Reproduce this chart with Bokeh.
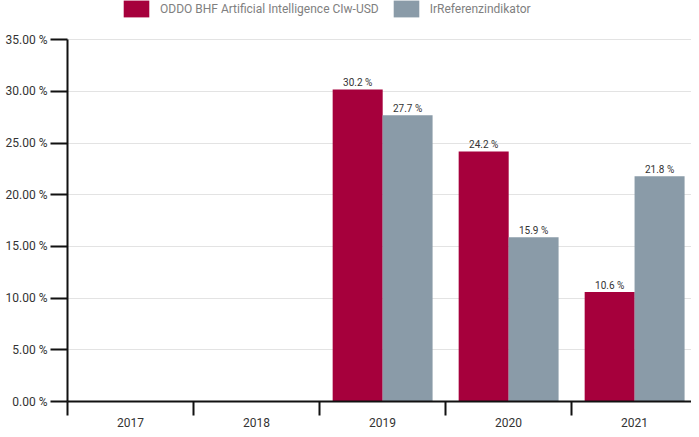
from bokeh.plotting import figure
from bokeh.models import (ColumnDataSource, Range1d, FixedTicker, LabelSet)
from bokeh.core.properties import value
from bokeh.embed import file_html
from bokeh.resources import INLINE

years = ["2017", "2018", "2019", "2020", "2021"]
fund_years = ["2019", "2020", "2021"]
fund_values = [30.2, 24.2, 10.6]
ref_years = ["2019", "2020", "2021"]
ref_values = [27.7, 15.9, 21.8]
y_ticks = [0, 5, 10, 15, 20, 25, 30, 35]
fund_name = "ODDO BHF Artificial Intelligence CIw-USD"
ref_name = "IrReferenzindikator"

RED = "#a6003c"
GREY = "#8a9ba8"
FONT = "Roboto"

def pos(y):
    return years.index(y) + 0.5

fund_src = ColumnDataSource(dict(
    x=[pos(y) - 0.197 for y in fund_years], top=fund_values,
    lbl=[f"{v:.1f} %" for v in fund_values]))
ref_src = ColumnDataSource(dict(
    x=[pos(y) + 0.199 for y in ref_years], top=ref_values,
    lbl=[f"{v:.1f} %" for v in ref_values]))

p = figure(width=691, height=429, output_backend="svg", toolbar_location=None,
           x_range=Range1d(0, 624 / 126), y_range=Range1d(0, 38.8),
           min_border_left=67, min_border_right=0, min_border_bottom=15,
           min_border_top=0)
p.outline_line_color = None

r1 = p.vbar(x="x", top="top", width=0.397, bottom=0, source=fund_src,
            fill_color=RED, line_color=None, legend_label=fund_name)
r2 = p.vbar(x="x", top="top", width=0.397, bottom=0, source=ref_src,
            fill_color=GREY, line_color=None, legend_label=ref_name)

for src in (fund_src, ref_src):
    p.add_layout(LabelSet(x="x", y="top", text="lbl", source=src,
                          text_align="center", text_baseline="bottom",
                          y_offset=1, text_font_size=value("10px"),
                          text_color=value("#333333"),
                          text_font=value(FONT)))

# y axis
yax = p.yaxis[0]
yax.ticker = FixedTicker(ticks=y_ticks)
yax.bounds = (0, 35)
yax.major_label_overrides = {t: f"{t:.2f} %" for t in y_ticks}
yax.major_tick_out = 17
yax.major_tick_in = 0
yax.major_tick_line_color = "#111111"
yax.major_tick_line_width = 2
yax.axis_line_color = "#111111"
yax.axis_line_width = 2
yax.major_label_text_font_size = "12px"
yax.major_label_text_color = "#333333"
yax.major_label_text_font = FONT
yax.major_label_standoff = 3
yax.minor_tick_line_color = None

# x axis
xax = p.xaxis[0]
xax.ticker = FixedTicker(ticks=[i + 0.5 for i in range(len(years))],
                         minor_ticks=list(range(len(years) + 1)))
xax.major_label_overrides = {i + 0.5: y for i, y in enumerate(years)}
xax.major_tick_line_color = None
xax.major_tick_out = 0
xax.major_tick_in = 0
xax.minor_tick_out = 14
xax.minor_tick_in = 0
xax.minor_tick_line_color = "#111111"
xax.minor_tick_line_width = 2
xax.axis_line_color = "#111111"
xax.axis_line_width = 2
xax.major_label_text_font_size = "12px"
xax.major_label_text_color = "#333333"
xax.major_label_text_font = FONT
xax.major_label_standoff = 2

p.xgrid.grid_line_color = None
p.ygrid.grid_line_color = "#e3e3e3"

lg = p.legend[0]
lg.orientation = "horizontal"
lg.location = (53, 382)
lg.glyph_width = 32
lg.glyph_height = 21
lg.label_standoff = 8
lg.spacing = 11
lg.padding = 0
lg.margin = 0
lg.border_line_color = None
lg.background_fill_alpha = 0
lg.label_text_font = FONT
lg.label_text_font_size = "12px"
lg.label_text_color = "#808080"

html = file_html(p, INLINE)
open("out.html", "w").write(html)
